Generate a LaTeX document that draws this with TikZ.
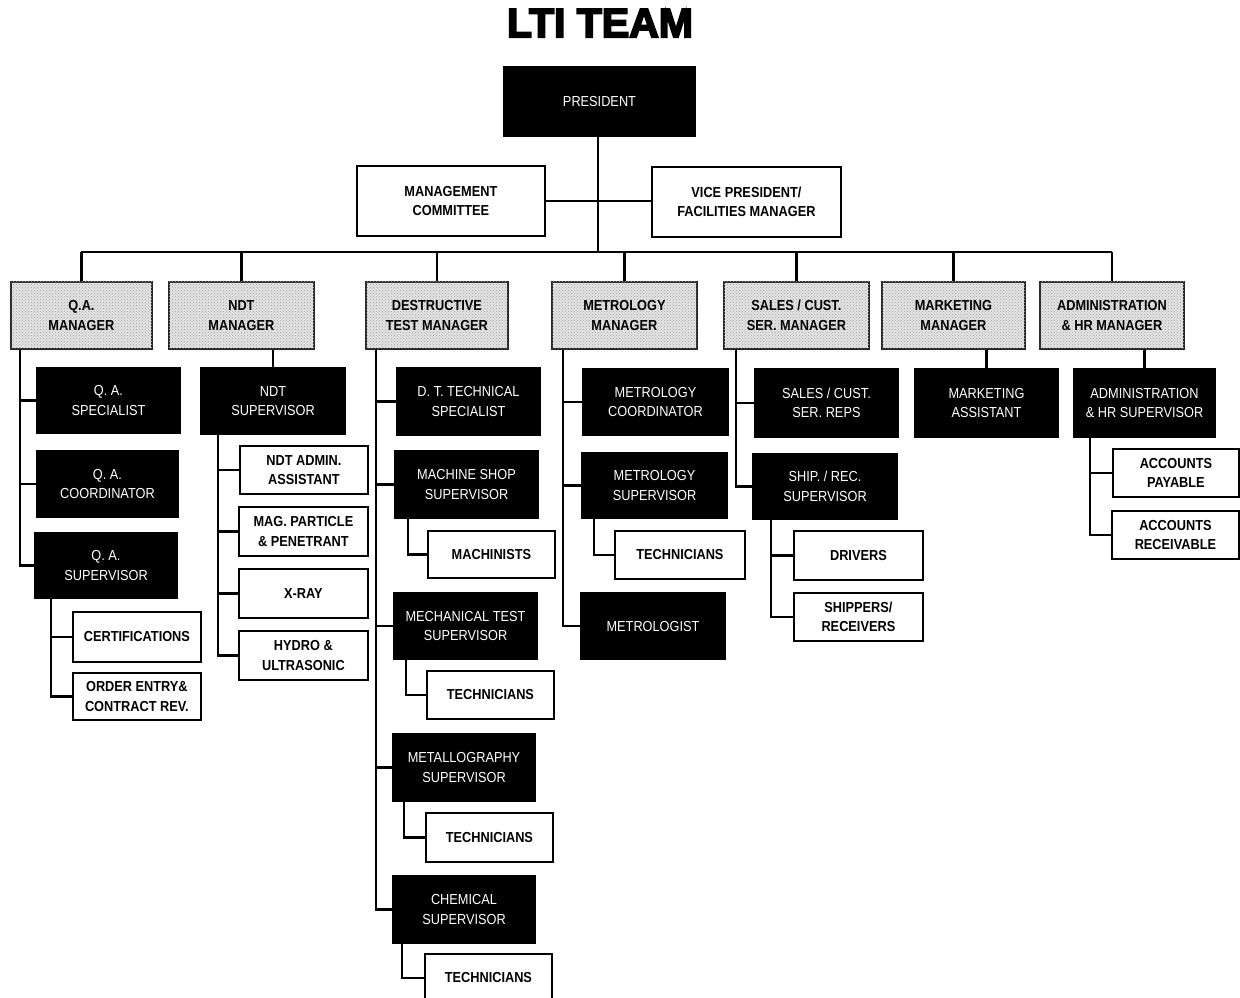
\documentclass[tikz,border=0pt]{standalone}
\usepackage{fontspec}
\setmainfont{Liberation Sans}[FakeStretch=0.88]
\newfontfamily\titlefont{Liberation Sans}
\usetikzlibrary{patterns}
\begin{document}
\begin{tikzpicture}[x=1pt,y=-1pt,
  box/.style={anchor=north west,inner sep=0pt,align=center,font=\fontsize{14.5}{19.5}\selectfont},
  blk/.style={box,fill=black,draw=black,line width=1pt,text=white},
  wht/.style={box,fill=white,draw=black,line width=1.8pt,font=\fontsize{14.5}{19.5}\selectfont\bfseries},
  mgr/.style={box,fill=gray!22,draw=black!85,line width=1.8pt,font=\fontsize{14.5}{19.5}\selectfont\bfseries,
     postaction={pattern=crosshatch dots,pattern color=gray!70}},
  conn/.style={line width=2.8pt,line join=miter}]
\useasboundingbox (0,0) rectangle (1240,997);
\clip (0,0) rectangle (1240,997);
\node[font=\titlefont\bfseries\fontsize{41}{41}\selectfont] (title) at (600,23) {\special{pdf:literal direct 2 Tr 1.8 w}LTI TEAM\special{pdf:literal direct 0 Tr}};
% top
\node[blk,minimum width=192pt,minimum height=70pt] (pres) at (503,66) {PRESIDENT};
\node[wht,minimum width=188pt,minimum height=70pt] (mc) at (356,165) {MANAGEMENT\\COMMITTEE};
\node[wht,minimum width=189pt,minimum height=70pt] (vp) at (651,166) {VICE PRESIDENT/\\FACILITIES MANAGER};
% managers
\node[mgr,minimum width=141pt,minimum height=67pt] (qam) at (10,281) {Q.A.\\MANAGER};
\node[mgr,minimum width=145pt,minimum height=67pt] (ndtm) at (168,281) {NDT\\MANAGER};
\node[mgr,minimum width=142pt,minimum height=67pt] (dtm) at (365,281) {DESTRUCTIVE\\TEST MANAGER};
\node[mgr,minimum width=145pt,minimum height=67pt] (metm) at (551,281) {METROLOGY\\MANAGER};
\node[mgr,minimum width=145pt,minimum height=67pt] (salm) at (723,281) {SALES / CUST.\\SER. MANAGER};
\node[mgr,minimum width=143pt,minimum height=67pt] (mktm) at (881,281) {MARKETING\\MANAGER};
\node[mgr,minimum width=144pt,minimum height=67pt] (admm) at (1039,281) {ADMINISTRATION\\\& HR MANAGER};
% QA
\node[blk,minimum width=144pt,minimum height=66pt] (qas) at (36,367) {Q. A.\\SPECIALIST};
\node[blk,minimum width=142pt,minimum height=67pt] (qac) at (36,450) {Q. A.\\COORDINATOR};
\node[blk,minimum width=143pt,minimum height=66pt] (qasup) at (34,532) {Q. A.\\SUPERVISOR};
\node[wht,minimum width=128pt,minimum height=50pt] (cert) at (72,611) {CERTIFICATIONS};
\node[wht,minimum width=128pt,minimum height=47pt] (oe) at (72,672) {ORDER ENTRY\&\\CONTRACT REV.};
% NDT
\node[blk,minimum width=145pt,minimum height=67pt] (ndts) at (200,367) {NDT\\SUPERVISOR};
\node[wht,minimum width=128pt,minimum height=48pt] (ndta) at (239,445) {NDT ADMIN.\\ASSISTANT};
\node[wht,minimum width=129pt,minimum height=49pt] (mag) at (238,506) {MAG. PARTICLE\\\& PENETRANT};
\node[wht,minimum width=129pt,minimum height=49pt] (xray) at (238,568) {X-RAY};
\node[wht,minimum width=129pt,minimum height=49pt] (hydro) at (238,630) {HYDRO \&\\ULTRASONIC};
% DT
\node[blk,minimum width=144pt,minimum height=68pt] (dtts) at (396,367) {D. T. TECHNICAL\\SPECIALIST};
\node[blk,minimum width=144pt,minimum height=68pt] (mss) at (394,450) {MACHINE SHOP\\SUPERVISOR};
\node[wht,minimum width=127pt,minimum height=47pt] (mach) at (427,530) {MACHINISTS};
\node[blk,minimum width=144pt,minimum height=67pt] (mts) at (393,592) {MECHANICAL TEST\\SUPERVISOR};
\node[wht,minimum width=127pt,minimum height=48pt] (tech1) at (426,670) {TECHNICIANS};
\node[blk,minimum width=143pt,minimum height=68pt] (mets) at (392,733) {METALLOGRAPHY\\SUPERVISOR};
\node[wht,minimum width=127pt,minimum height=49pt] (tech2) at (425,812) {TECHNICIANS};
\node[blk,minimum width=143pt,minimum height=68pt] (chs) at (392,875) {CHEMICAL\\SUPERVISOR};
\node[wht,minimum width=127pt,minimum height=48pt] (tech3) at (424,953) {TECHNICIANS};
% Metrology
\node[blk,minimum width=146pt,minimum height=67pt] (mco) at (582,368) {METROLOGY\\COORDINATOR};
\node[blk,minimum width=146pt,minimum height=66pt] (msup) at (581,452) {METROLOGY\\SUPERVISOR};
\node[wht,minimum width=130pt,minimum height=48pt] (tech4) at (614,530) {TECHNICIANS};
\node[blk,minimum width=145pt,minimum height=67pt] (mlog) at (580,592) {METROLOGIST};
% Sales
\node[blk,minimum width=144pt,minimum height=69pt] (reps) at (754,368) {SALES / CUST.\\SER. REPS};
\node[blk,minimum width=145pt,minimum height=66pt] (ship) at (752,453) {SHIP. / REC.\\SUPERVISOR};
\node[wht,minimum width=129pt,minimum height=49pt] (drv) at (793,530) {DRIVERS};
\node[wht,minimum width=129pt,minimum height=48pt] (shp) at (793,592) {SHIPPERS/\\RECEIVERS};
% Marketing / Admin
\node[blk,minimum width=144pt,minimum height=69pt] (mkta) at (914,368) {MARKETING\\ASSISTANT};
\node[blk,minimum width=142pt,minimum height=69pt] (adms) at (1073,368) {ADMINISTRATION\\\& HR SUPERVISOR};
\node[wht,minimum width=126pt,minimum height=48pt] (ap) at (1112,448) {ACCOUNTS\\PAYABLE};
\node[wht,minimum width=127pt,minimum height=48pt] (ar) at (1111,510) {ACCOUNTS\\RECEIVABLE};
% connectors top
\coordinate (bar) at (598,252);
\draw[conn] (pres.south -| bar) -- (bar);
\draw[conn] (mc.east) -- (mc.east -| vp.west);
\draw[conn] (qam.north |- bar) -- (admm.north |- bar);
\foreach \m in {qam,ndtm,dtm,metm,salm,mktm,admm}{\draw[conn] (\m.north) -- (\m.north |- bar);}
% QA
\draw[conn] ([xshift=10pt]qam.south west) coordinate (t1) |- (qasup.west);
\draw[conn] (t1) |- (qas.west);
\draw[conn] (t1) |- (qac.west);
\draw[conn] ([xshift=17pt]qasup.south west) coordinate (t2) |- (oe.west);
\draw[conn] (t2) |- (cert.west);
% NDT
\draw[conn] (ndtm.south -| ndts.north) -- (ndts.north);
\draw[conn] ([xshift=18pt]ndts.south west) coordinate (t3) |- (hydro.west);
\draw[conn] (t3) |- (ndta.west);
\draw[conn] (t3) |- (mag.west);
\draw[conn] (t3) |- (xray.west);
% DT
\draw[conn] ([xshift=11pt]dtm.south west) coordinate (t4) |- (chs.west);
\foreach \n in {dtts,mss,mts,mets}{\draw[conn] (t4) |- (\n.west);}
\draw[conn] ([xshift=14pt]mss.south west) |- (mach.west);
\draw[conn] ([xshift=13pt]mts.south west) |- (tech1.west);
\draw[conn] ([xshift=12pt]mets.south west) |- (tech2.west);
\draw[conn] ([xshift=10pt]chs.south west) |- (tech3.west);
% Metrology
\draw[conn] ([xshift=12pt]metm.south west) coordinate (t5) |- (mlog.west);
\draw[conn] (t5) |- (mco.west);
\draw[conn] (t5) |- (msup.west);
\draw[conn] ([xshift=13pt]msup.south west) |- (tech4.west);
% Sales
\draw[conn] ([xshift=13pt]salm.south west) coordinate (t6) |- (ship.west);
\draw[conn] (t6) |- (reps.west);
\draw[conn] ([xshift=19pt]ship.south west) coordinate (t7) |- (shp.west);
\draw[conn] (t7) |- (drv.west);
% Marketing / Admin
\draw[conn] (mktm.south -| mkta.north) -- (mkta.north);
\draw[conn] (admm.south -| adms.north) -- (adms.north);
\draw[conn] ([xshift=17pt]adms.south west) coordinate (t8) |- (ar.west);
\draw[conn] (t8) |- (ap.west);
\end{tikzpicture}
\end{document}
